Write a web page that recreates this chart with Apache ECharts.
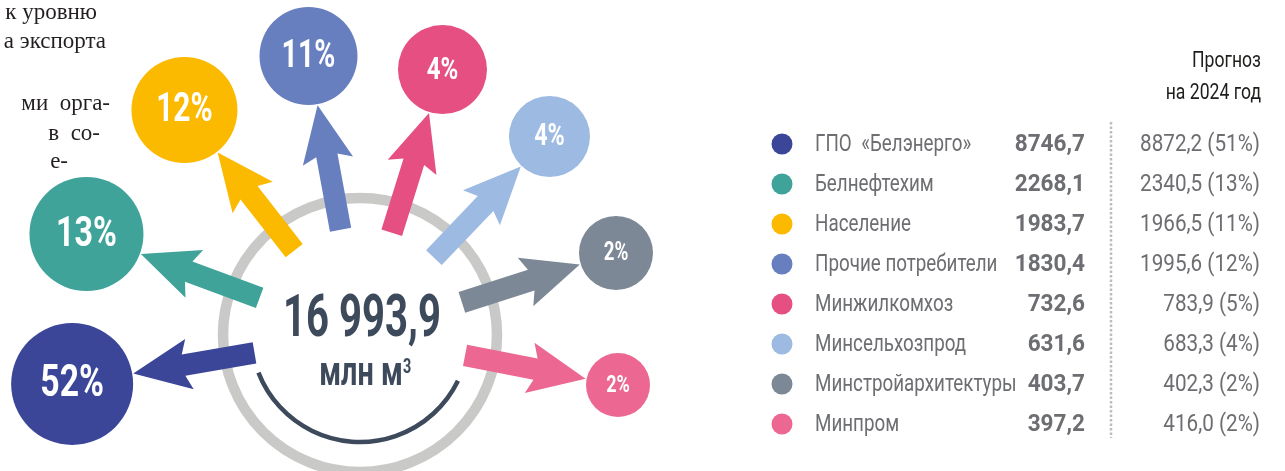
<!DOCTYPE html>
<html>
<head>
<meta charset="utf-8">
<script src="https://cdn.jsdelivr.net/npm/echarts@6.0.0/dist/echarts.min.js"></script>
<style>
html, body { margin: 0; padding: 0; background: #fff; }
#chart { width: 1285px; height: 471px; }
</style>
</head>
<body>
<div id="chart"></div>
<script>
// потребление газа по группам, млн м3
var categories = ['ГПО  «Белэнерго»', 'Белнефтехим', 'Население', 'Прочие потребители',
                  'Минжилкомхоз', 'Минсельхозпрод', 'Минстройархитектуры', 'Минпром'];
var volumes = [8746.7, 2268.1, 1983.7, 1830.4, 732.6, 631.6, 403.7, 397.2];
var shares = [52, 13, 12, 11, 4, 4, 2, 2];
var forecastValues = [8872.2, 2340.5, 1966.5, 1995.6, 783.9, 683.3, 402.3, 416.0];
var forecastShares = [51, 13, 11, 12, 5, 4, 2, 2];
var totalVolume = 16993.9;
var unitText = 'млн м';
var forecastTitle = ['Прогноз', 'на 2024 год'];

// оформление
var colors = ['#3c4699', '#3fa39a', '#fbb900', '#677fbf', '#e54f82', '#9dbae2', '#7c8896', '#ec6892'];
var bubbleAngles = [189.66, 159.73, 127.96, 100.46, 72.74, 46.33, 17.76, 349.03];
var bubbleDistances = [292, 291.6, 285.4, 283.7, 278, 274.4, 268.8, 262.8];
var bubbleRadii = [61, 57, 53, 49, 44.5, 40.5, 37, 32];
var labelSizes = [45, 43, 40, 38, 32, 31, 25, 24];
var ARROW_TAIL = 107;

function fmt(v) {
    return v.toFixed(1).replace('.', ',');
}
function fmtTotal(v) {
    var p = v.toFixed(1).split('.');
    return p[0].replace(/\B(?=(\d{3})+(?!\d))/g, ' ') + ',' + p[1];
}

function renderRing(params, api) {
    var c = api.coord([0, 0]);
    return {
        type: 'group',
        children: [
            { type: 'circle', shape: { cx: c[0], cy: c[1], r: 137 },
              style: { fill: 'none', stroke: '#c9cac8', lineWidth: 10.5 } },
            { type: 'arc', shape: { cx: c[0], cy: c[1] - 2, r: 109,
                startAngle: 26 * Math.PI / 180, endAngle: 158.7 * Math.PI / 180, clockwise: true },
              style: { fill: 'none', stroke: '#3d4a5c', lineWidth: 4.5 } }
        ]
    };
}

function renderBubble(params, api) {
    var i = params.dataIndex;
    var ang = api.value(1);
    var c = api.coord([api.value(0), ang]);
    var t = api.coord([ARROW_TAIL, ang]);
    var dx = c[0] - t[0], dy = c[1] - t[1];
    var len = Math.sqrt(dx * dx + dy * dy);
    var ux = dx / len, uy = dy / len, nx = -uy, ny = ux;
    var r = bubbleRadii[i];
    var tip = [c[0] - ux * (r + 1), c[1] - uy * (r + 1)];
    function at(back, side) {
        return [tip[0] - ux * back + nx * side, tip[1] - uy * back + ny * side];
    }
    var sw = 10.8;
    var pts = [tip, at(57, 25.5), at(51, sw), [t[0] + nx * sw, t[1] + ny * sw],
               [t[0] - nx * sw, t[1] - ny * sw], at(51, -sw), at(57, -25.5)];
    return {
        type: 'group',
        children: [
            { type: 'polygon', shape: { points: pts }, style: { fill: colors[i] } },
            { type: 'circle', shape: { cx: c[0], cy: c[1], r: r }, style: { fill: colors[i] } },
            { type: 'text', x: c[0], y: c[1] + 1, scaleX: 0.75,
              style: { text: api.value(2) + '%', x: 0, y: 0, align: 'center', verticalAlign: 'middle',
                       fill: '#fff', font: 'bold ' + labelSizes[i] + 'px Roboto' } }
        ]
    };
}

function renderCenter(params, api) {
    var c = api.coord([0, 0]);
    return {
        type: 'group',
        children: [
            { type: 'text', x: c[0] + 2, y: c[1] - 14, scaleX: 0.68,
              style: { text: fmtTotal(totalVolume), x: 0, y: 0, align: 'center', verticalAlign: 'middle',
                       fill: '#3d4a5c', font: 'bold 59px Roboto' } },
            { type: 'text', x: c[0] + 1, y: c[1] + 40, scaleX: 0.72,
              style: { text: unitText, x: 0, y: 0, align: 'center', verticalAlign: 'middle',
                       fill: '#3d4a5c', font: 'bold 40px Roboto' } },
            { type: 'text', x: c[0] + 43, y: c[1] + 33, scaleX: 0.72,
              style: { text: '3', x: 0, y: 0, align: 'left', verticalAlign: 'middle',
                       fill: '#3d4a5c', font: 'bold 20px Roboto' } }
        ]
    };
}

function renderLegend(params, api) {
    var i = params.dataIndex;
    var y = api.coord([0, i])[1];
    return {
        type: 'group',
        children: [
            { type: 'circle', shape: { cx: 782, cy: y, r: 10.5 }, style: { fill: colors[i] } },
            { type: 'text', x: 815, y: y + 1, scaleX: 0.8,
              style: { text: categories[i], x: 0, y: 0, align: 'left', verticalAlign: 'middle',
                       fill: '#6d6e71', font: '23.5px Roboto' } },
            { type: 'text', x: 1085, y: y + 1, scaleX: 0.96,
              style: { text: fmt(volumes[i]), x: 0, y: 0, align: 'right', verticalAlign: 'middle',
                       fill: '#6d6e71', font: 'bold 23.5px Roboto' } },
            { type: 'text', x: 1260, y: y + 1, scaleX: 0.88,
              style: { text: fmt(forecastValues[i]) + ' (' + forecastShares[i] + '%)', x: 0, y: 0,
                       align: 'right', verticalAlign: 'middle', fill: '#6d6e71', font: '23.5px Roboto' } }
        ]
    };
}

var hidden = { show: false, axisLine: { show: false }, axisTick: { show: false },
               axisLabel: { show: false }, splitLine: { show: false } };

var serifStyle = { fill: '#231f20', font: '23px "Liberation Serif"', align: 'right', verticalAlign: 'middle' };
var paragraph = [['к уровню', 97, 13], ['а экспорта', 106, 42], ['ми  орга-', 110, 104],
                 ['в  со-', 100, 134], ['е-', 68, 162]];

var option = {
    backgroundColor: '#fff',
    animation: false,
    polar: { center: [360, 335], radius: 300 },
    radiusAxis: Object.assign({ type: 'value', min: 0, max: 300 }, hidden),
    angleAxis: Object.assign({ type: 'value', min: 0, max: 360, startAngle: 0, clockwise: false }, hidden),
    grid: { left: 760, top: 124, width: 520, height: 320 },
    xAxis: Object.assign({ type: 'value', min: 0, max: 1 }, hidden),
    yAxis: Object.assign({ type: 'category', data: categories, inverse: true }, hidden),
    graphic: paragraph.map(function (p) {
        return { type: 'text', x: p[1], y: p[2], style: Object.assign({ text: p[0] }, serifStyle) };
    }).concat([
        { type: 'text', x: 1261, y: 61, scaleX: 0.8,
          style: { text: forecastTitle[0], align: 'right', verticalAlign: 'middle', fill: '#1d1d1b', font: '22px Roboto' } },
        { type: 'text', x: 1261, y: 93, scaleX: 0.8,
          style: { text: forecastTitle[1], align: 'right', verticalAlign: 'middle', fill: '#1d1d1b', font: '22px Roboto' } },
        { type: 'line', shape: { x1: 1111, y1: 122, x2: 1111, y2: 438 },
          style: { stroke: '#bcbdbf', lineWidth: 2.5, lineDash: [2.5, 2] } }
    ]),
    series: [
        { type: 'custom', coordinateSystem: 'polar', silent: true, data: [[0, 0]], renderItem: renderRing },
        { type: 'custom', coordinateSystem: 'polar', silent: true,
          data: shares.map(function (s, i) { return [bubbleDistances[i], bubbleAngles[i], s]; }),
          renderItem: renderBubble },
        { type: 'custom', coordinateSystem: 'polar', silent: true, data: [[0, 0]], renderItem: renderCenter },
        { type: 'custom', coordinateSystem: 'cartesian2d', silent: true,
          data: categories.map(function (c, i) { return [0, i]; }), renderItem: renderLegend }
    ]
};

var myChart = echarts.init(document.getElementById('chart'));
myChart.setOption(option);
window.addEventListener('resize', function () { myChart.resize(); });
</script>
</body>
</html>
